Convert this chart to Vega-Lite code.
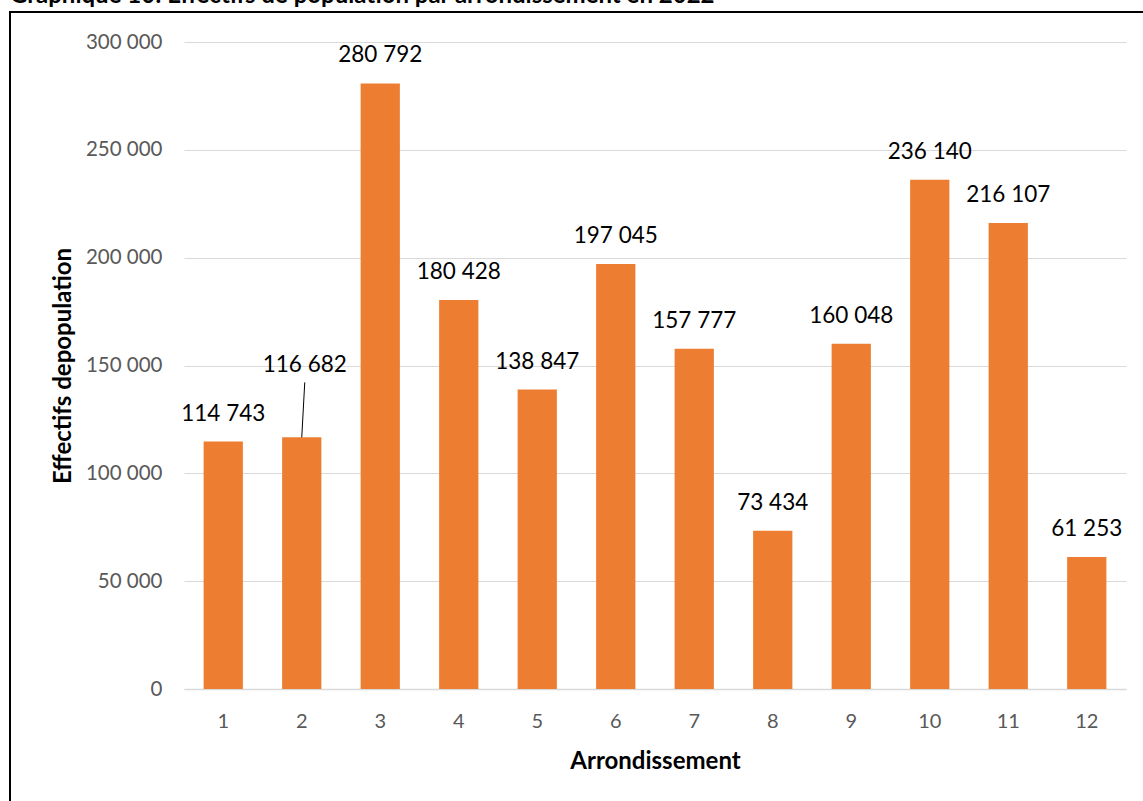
{
  "$schema": "https://vega.github.io/schema/vega-lite/v6.json",
  "autosize": {"type": "none"},
  "padding": {"left": 10, "top": 12, "right": -6, "bottom": -6},
  "width": 1139,
  "height": 795,
  "background": "white",
  "title": {
    "text": "Graphique 10: Effectifs de population par arrondissement en 2022",
    "anchor": "start",
    "frame": "group",
    "baseline": "alphabetic",
    "offset": 4,
    "dx": 0,
    "dy": 19,
    "font": "Lato",
    "fontSize": 24,
    "fontWeight": "bold",
    "color": "black"
  },
  "config": {
    "locale": {"number": {"decimal": ",", "thousands": " ", "grouping": [3], "currency": ["", " €"]}},
    "view": {"stroke": "black", "strokeWidth": 2},
    "font": "Lato"
  },
  "data": {
    "values": [
      {"arrondissement": "1", "effectif": 114743},
      {"arrondissement": "2", "effectif": 116682},
      {"arrondissement": "3", "effectif": 280792},
      {"arrondissement": "4", "effectif": 180428},
      {"arrondissement": "5", "effectif": 138847},
      {"arrondissement": "6", "effectif": 197045},
      {"arrondissement": "7", "effectif": 157777},
      {"arrondissement": "8", "effectif": 73434},
      {"arrondissement": "9", "effectif": 160048},
      {"arrondissement": "10", "effectif": 236140},
      {"arrondissement": "11", "effectif": 216107},
      {"arrondissement": "12", "effectif": 61253}
    ]
  },
  "encoding": {
    "x": {
      "field": "arrondissement",
      "type": "ordinal",
      "sort": null,
      "scale": {"range": [174, 1116], "paddingInner": 0.5, "paddingOuter": 0.25},
      "axis": {
        "title": "Arrondissement",
        "offset": -118,
        "labelAngle": 0,
        "ticks": false,
        "domainColor": "#d9d9d9",
        "domainWidth": 1.5,
        "labelColor": "#595959",
        "labelFont": "Lato",
        "labelFontSize": 20,
        "labelPadding": 22,
        "titleFont": "Lato",
        "titleFontSize": 24,
        "titleFontWeight": "bold",
        "titleColor": "black",
        "titlePadding": 18
      }
    },
    "y": {
      "field": "effectif",
      "type": "quantitative",
      "scale": {"domain": [0, 300000], "range": [677, 30], "nice": false},
      "axis": {
        "title": "Effectifs depopulation",
        "offset": -174,
        "values": [0, 50000, 100000, 150000, 200000, 250000, 300000],
        "format": ",d",
        "domain": false,
        "ticks": false,
        "gridColor": "#d9d9d9",
        "gridWidth": 1,
        "labelColor": "#595959",
        "labelFont": "Lato",
        "labelFontSize": 20.5,
        "labelPadding": 22,
        "titleFont": "Lato",
        "titleFontSize": 24,
        "titleFontWeight": "bold",
        "titleColor": "black",
        "titlePadding": 10
      }
    }
  },
  "layer": [
    {"mark": {"type": "bar", "color": "#ED7D31"}},
    {
      "transform": [{"filter": "datum.arrondissement !== '2'"}],
      "mark": {"type": "text", "dy": -28, "baseline": "middle", "font": "Lato", "fontSize": 22.5, "color": "black"},
      "encoding": {"text": {"field": "effectif", "type": "quantitative", "format": ",d"}}
    },
    {
      "transform": [{"filter": "datum.arrondissement === '2'"}],
      "mark": {"type": "text", "dy": -72, "dx": 3, "baseline": "middle", "font": "Lato", "fontSize": 22.5, "color": "black"},
      "encoding": {"text": {"field": "effectif", "type": "quantitative", "format": ",d"}}
    },
    {
      "transform": [{"filter": "datum.arrondissement === '2'"}],
      "mark": {"type": "rule", "color": "black", "strokeWidth": 1, "x2Offset": 3, "y2Offset": -55},
      "encoding": {
        "x2": {"field": "arrondissement"},
        "y2": {"field": "effectif"}
      }
    }
  ]
}
